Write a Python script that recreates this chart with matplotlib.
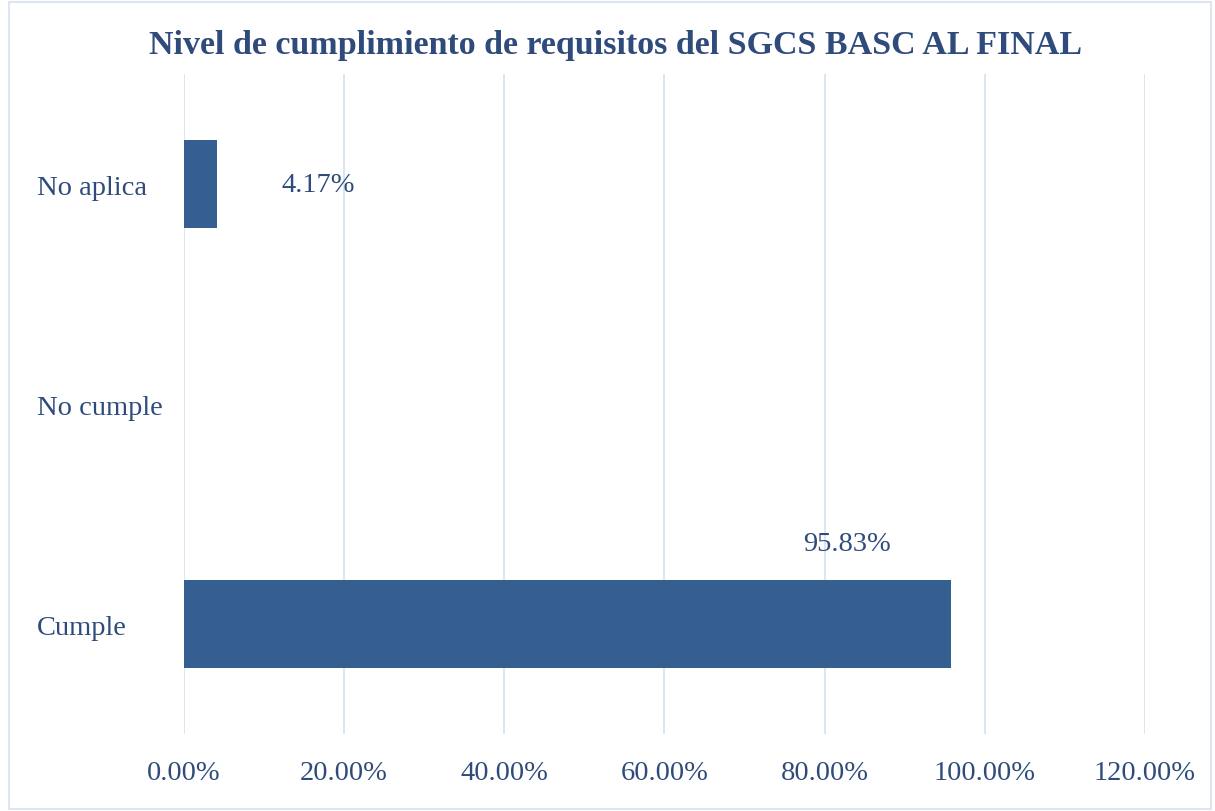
import matplotlib.pyplot as plt
from matplotlib.patches import Rectangle
from matplotlib.ticker import FuncFormatter

# data
categories = ['Cumple', 'No cumple', 'No aplica']
values = [95.83, 0.0, 4.17]
labels = ['95.83%', '', '4.17%']
xticks = [0, 20, 40, 60, 80, 100, 120]

bar_color = '#365F91'
text_color = '#2F4B7C'
grid_color = '#D6E0F0'

plt.rcParams['font.family'] = ['Liberation Serif', 'DejaVu Serif']

fig = plt.figure(figsize=(12.15, 8.12), dpi=100)
ax = fig.add_axes([0.1514, 0.0948, 0.7910, 0.8128])

# light frame around the chart area
fig.patches.append(Rectangle((0.007, 0.003), 0.99, 0.993, transform=fig.transFigure,
                             fill=False, edgecolor='#DCE5F3', linewidth=1.5))

pos = range(len(categories))
bars = ax.barh(pos, values, height=0.4, color=bar_color, zorder=3)

ax.set_xlim(0, 120)
ax.set_ylim(-0.5, 2.5)
ax.set_xticks(xticks)
ax.xaxis.set_major_formatter(FuncFormatter(lambda v, p: '{:.2f}%'.format(v)))
ax.set_yticks(list(pos))
ax.set_yticklabels(categories)
for t in ax.get_yticklabels():
    t.set_ha('left')

ax.tick_params(axis='y', length=0, pad=106, labelsize=20.5, labelcolor=text_color)
ax.tick_params(axis='x', length=0, pad=19, labelsize=20.5, labelcolor=text_color)
for s in ax.spines.values():
    s.set_visible(False)
ax.grid(axis='x', color=grid_color, linewidth=1.2, zorder=0)

# data labels
ax.annotate(labels[2], (values[2], 2), xytext=(101, 0), textcoords='offset pixels',
            ha='center', va='center', fontsize=20.5, color=text_color)
ax.annotate(labels[0], (values[0], 0), xytext=(-104, 81), textcoords='offset pixels',
            ha='center', va='center', fontsize=20.5, color=text_color)

fig.suptitle('Nivel de cumplimiento de requisitos del SGCS BASC AL FINAL',
             x=0.507, y=0.944, va='center', fontsize=24.5, fontweight='bold',
             color=text_color)

fig.savefig('out.png', dpi=100, facecolor='white')
